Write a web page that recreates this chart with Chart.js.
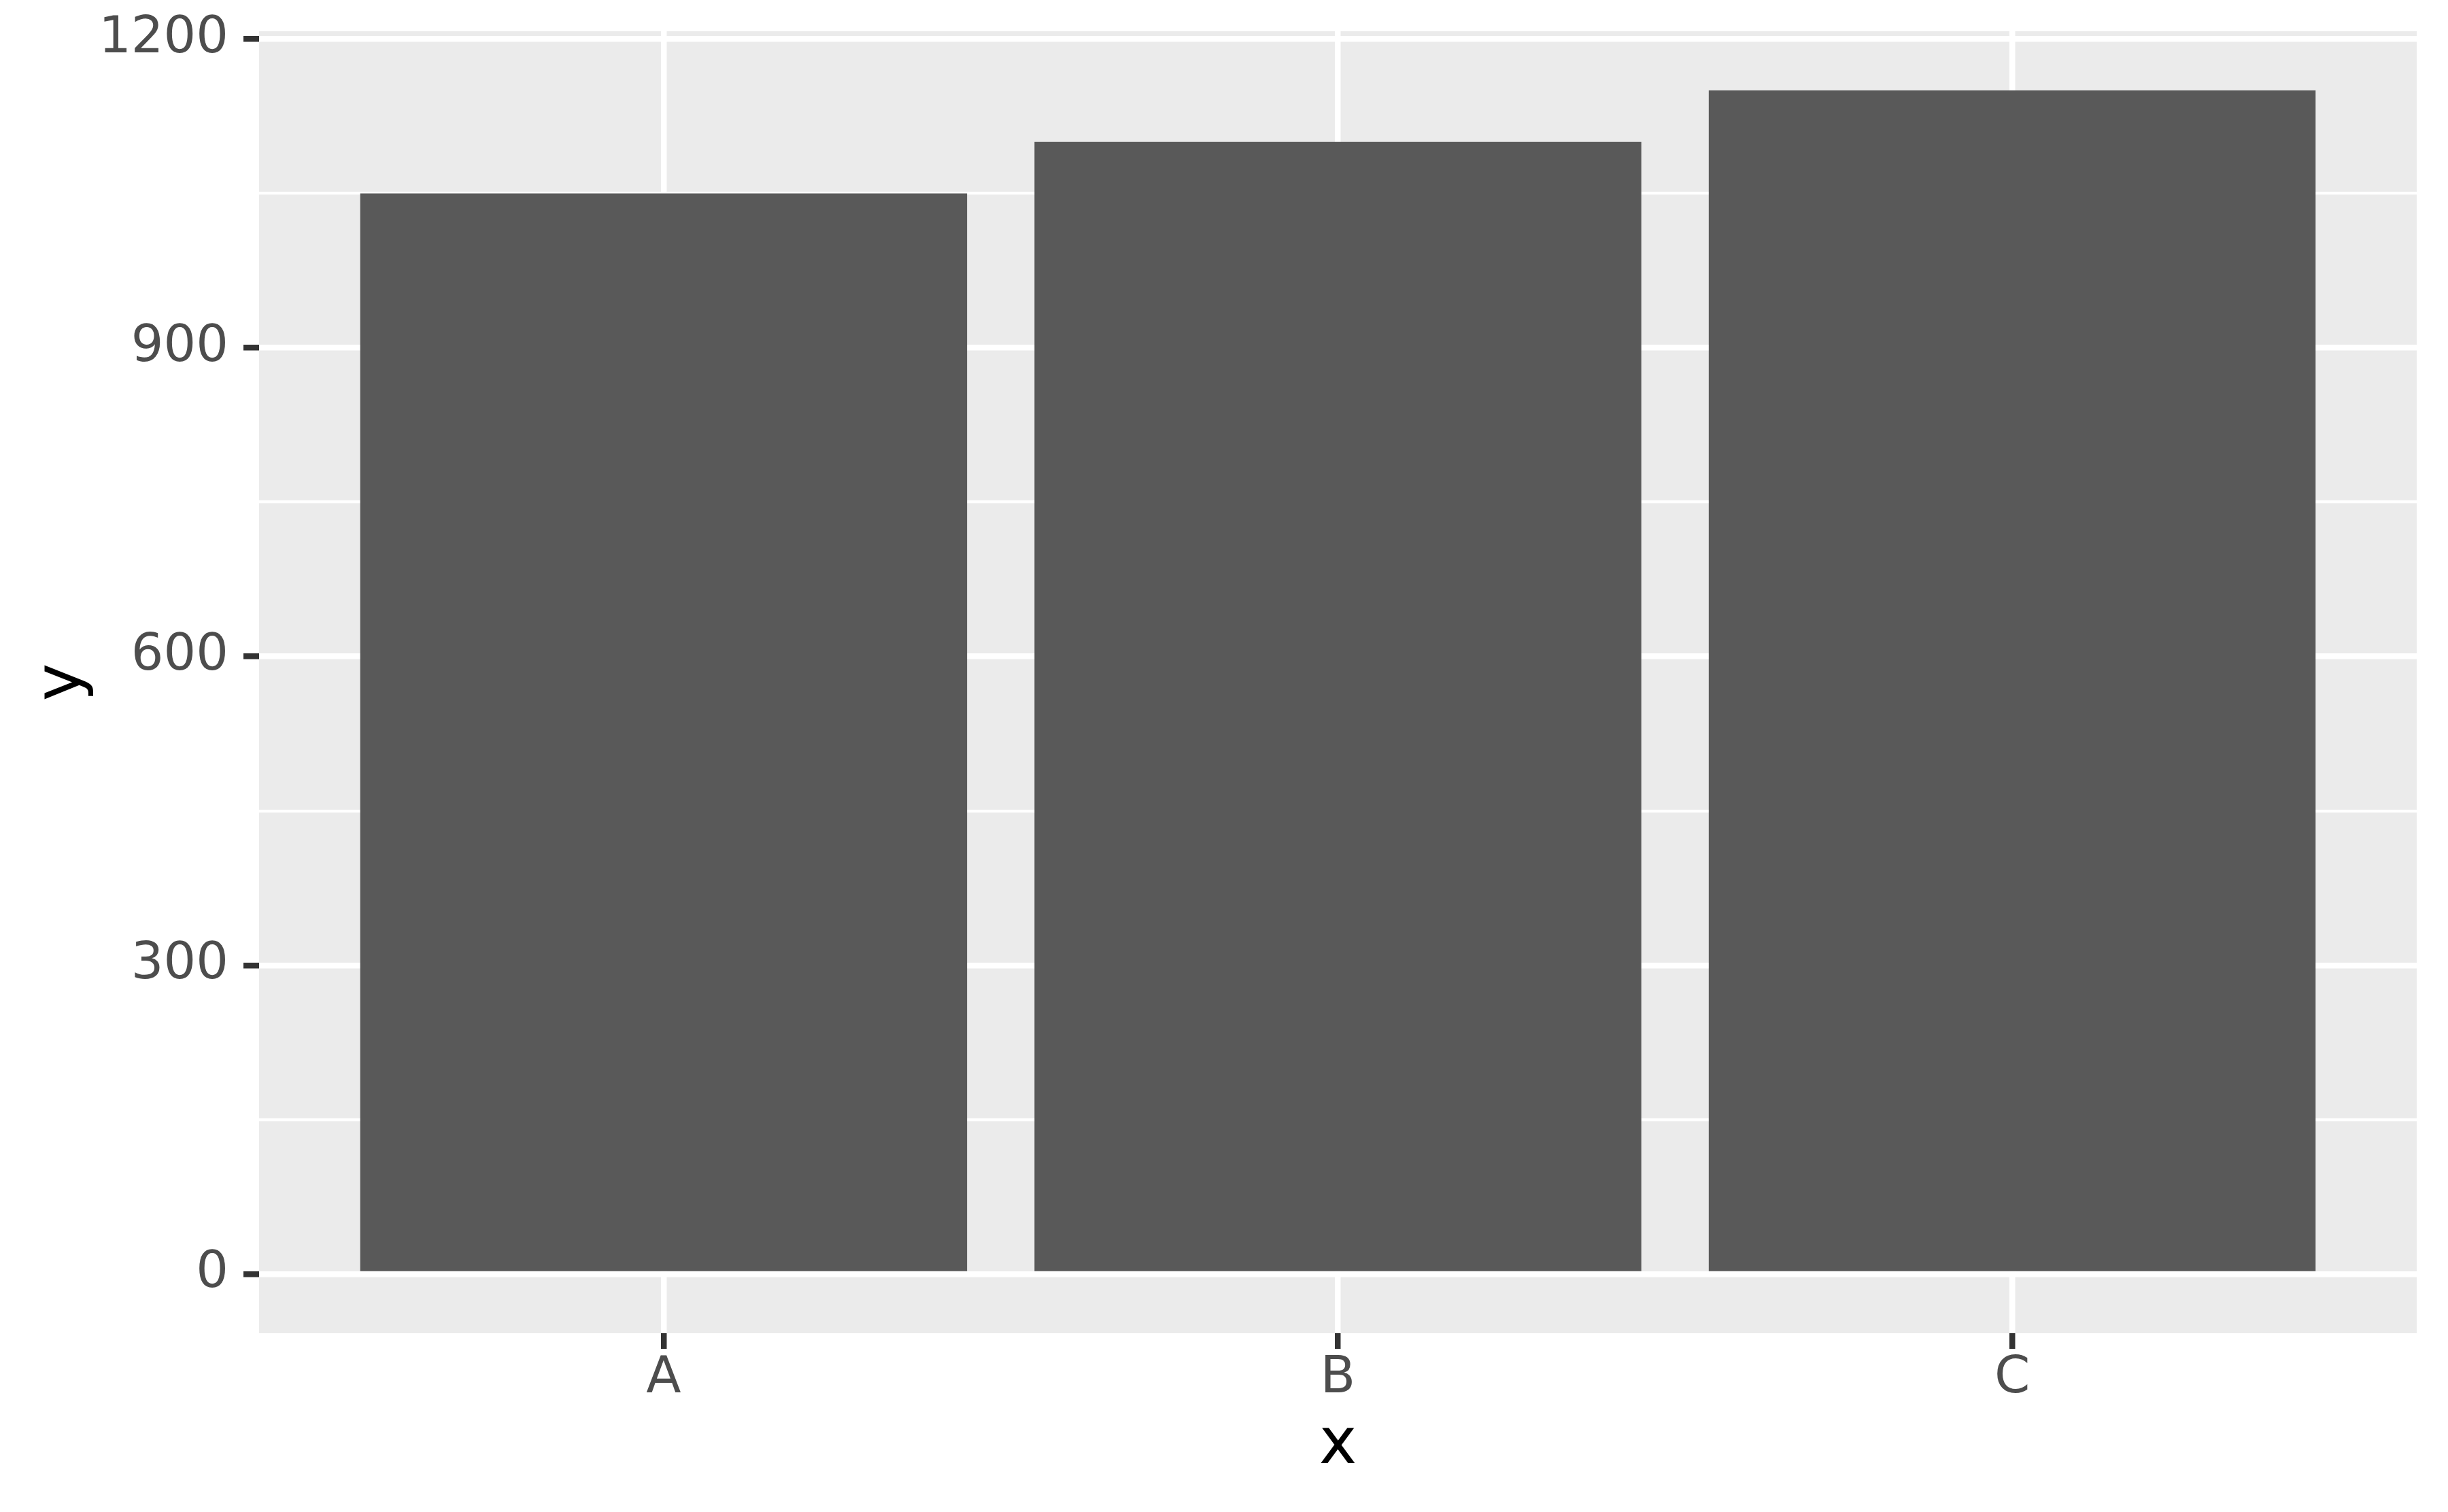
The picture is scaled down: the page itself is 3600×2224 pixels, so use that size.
<!DOCTYPE html>
<html>
<head>
<meta charset="utf-8">
<script src="https://cdn.jsdelivr.net/npm/chart.js@4.4.1/dist/chart.umd.min.js"></script>
<style>
  html, body { margin: 0; padding: 0; background: #ffffff; }
  canvas { display: block; }
</style>
</head>
<body>
<canvas id="barChart" width="3600" height="2224"></canvas>
<script>
// data
const categories = ["A", "B", "C"];
const values = [1050, 1100, 1150];
const yTicks = [0, 150, 300, 450, 600, 750, 900, 1050, 1200];
const yMajor = [0, 300, 600, 900, 1200];

const FONT = "'DejaVu Sans', sans-serif";

// grey panel behind the plot, like ggplot's theme_gray
const panelBackground = {
  id: "panelBackground",
  beforeDraw(chart) {
    const { ctx, chartArea } = chart;
    ctx.save();
    ctx.fillStyle = "#EBEBEB";
    ctx.fillRect(chartArea.left, chartArea.top, chartArea.right - chartArea.left, chartArea.bottom - chartArea.top);
    ctx.restore();
  },
};

// keep chart.js from adding room for overhanging tick labels
const noLabelPadding = (scale) => {
  scale.paddingTop = 0;
  scale.paddingBottom = 0;
  scale.paddingLeft = 0;
  scale.paddingRight = 0;
};

const ctx = document.getElementById("barChart").getContext("2d");
const barChart = new Chart(ctx, {
  type: "bar",
  data: {
    datasets: [
      {
        label: "y",
        data: categories.map((c, i) => ({ x: i + 1, y: values[i] })),
        backgroundColor: "#595959",
        borderWidth: 0,
        barPercentage: 0.9,
        categoryPercentage: 1,
      },
    ],
  },
  options: {
    responsive: false,
    devicePixelRatio: 1,
    animation: false,
    layout: {
      padding: { left: 0, top: 46, right: 46, bottom: 0 },
    },
    scales: {
      x: {
        type: "linear",
        min: 0.4,
        max: 3.6,
        offset: false,
        border: { display: false },
        grid: {
          offset: false,
          color: "#FFFFFF",
          lineWidth: 8.5,
          tickColor: "#333333",
          tickWidth: 8.5,
          tickLength: 23,
        },
        afterBuildTicks: (scale) => {
          scale.ticks = categories.map((c, i) => ({ value: i + 1 }));
        },
        afterFit: (scale) => {
          scale.height = 2224 - 1961;
          noLabelPadding(scale);
        },
        ticks: {
          font: { family: FONT, size: 75 },
          color: "#4D4D4D",
          padding: 0,
          maxRotation: 0,
          callback: (value) => categories[value - 1],
        },
        title: {
          display: true,
          text: "x",
          font: { family: FONT, size: 94 },
          color: "#000000",
          padding: { top: 0, bottom: 40 },
        },
      },
      y: {
        min: -57.5,
        max: 1207.5,
        border: { display: false },
        grid: {
          color: "#FFFFFF",
          lineWidth: (c) => (yMajor.includes(c.tick.value) ? 8.5 : 4.25),
          tickColor: (c) => (yMajor.includes(c.tick.value) ? "#333333" : "rgba(0,0,0,0)"),
          tickWidth: 8.5,
          tickLength: 23,
        },
        afterBuildTicks: (scale) => {
          scale.ticks = yTicks.map((v) => ({ value: v }));
        },
        afterFit: (scale) => {
          scale.width = 381;
          noLabelPadding(scale);
        },
        ticks: {
          font: { family: FONT, size: 75 },
          color: "#4D4D4D",
          padding: 22,
          callback: (value) => (yMajor.includes(value) ? String(value) : ""),
        },
        title: {
          display: true,
          text: "y",
          font: { family: FONT, size: 94 },
          color: "#000000",
          padding: { top: 36, bottom: 0 },
        },
      },
    },
    plugins: {
      legend: { display: false },
      tooltip: { enabled: false },
    },
  },
  plugins: [panelBackground],
});
</script>
</body>
</html>
